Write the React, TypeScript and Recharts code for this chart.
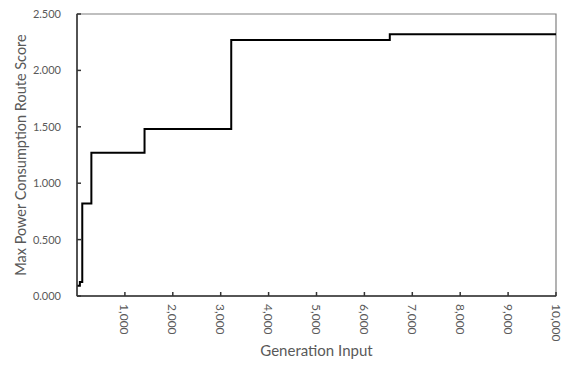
import { Label, Line, LineChart, ReferenceArea, XAxis, YAxis } from "recharts";

const generations = [0, 60, 110, 300, 1410, 3220, 6530, 10000];
const scores = [0.09, 0.125, 0.82, 1.27, 1.48, 2.27, 2.32, 2.32];
const xTicks = [1000, 2000, 3000, 4000, 5000, 6000, 7000, 8000, 9000, 10000];
const yTicks = [0, 0.5, 1, 1.5, 2, 2.5];

const data = generations.map((g, i) => ({ gen: g, score: scores[i] }));

const FONT = "Lato, 'Noto Sans', sans-serif";
const TEXT = "#595959";
const AXIS = "#333";

function XTick({ x, y, payload }: any) {
  return (
    <text
      x={0}
      y={0}
      transform={`translate(${x},${y}) rotate(90)`}
      textAnchor="start"
      dominantBaseline="central"
      fontSize={12}
      fontFamily={FONT}
      fill={TEXT}
    >
      {Number(payload.value).toLocaleString("en-US")}
    </text>
  );
}

export default function App() {
  return (
    <div style={{ width: 567, height: 365 }}>
      <style>{"html,body{margin:0;padding:0;overflow:hidden}"}</style>
      <LineChart
        width={567}
        height={365}
        data={data}
        margin={{ top: 14, right: 11, left: 0, bottom: 0 }}
      >
        <ReferenceArea
          x1={0}
          x2={10000}
          y1={0}
          y2={2.5}
          fill="none"
          stroke="#808080"
          strokeWidth={1.2}
          ifOverflow="visible"
        />
        <XAxis
          dataKey="gen"
          type="number"
          domain={[0, 10000]}
          ticks={xTicks}
          interval={0}
          height={69}
          stroke={AXIS}
          strokeWidth={1.5}
          tickSize={-4}
          tickMargin={12}
          tick={<XTick />}
        >
          <Label
            content={({ viewBox }: any) => (
              <text
                x={viewBox.x + viewBox.width / 2}
                y={viewBox.y + 60}
                textAnchor="middle"
                fontSize={15}
                fontFamily={FONT}
                fill={TEXT}
              >
                Generation Input
              </text>
            )}
          />
        </XAxis>
        <YAxis
          type="number"
          domain={[0, 2.5]}
          ticks={yTicks}
          interval={0}
          width={77}
          stroke={AXIS}
          strokeWidth={1.5}
          tickSize={-4}
          tickMargin={20}
          tickFormatter={(v: number) => v.toFixed(3)}
          tick={{ fontSize: 11, fontFamily: FONT, fill: TEXT }}
        >
          <Label
            content={({ viewBox }: any) => {
              const cx = 20;
              const cy = viewBox.y + viewBox.height / 2;
              return (
                <text
                  x={cx}
                  y={cy}
                  transform={`rotate(-90, ${cx}, ${cy})`}
                  textAnchor="middle"
                  dominantBaseline="central"
                  fontSize={14.5}
                  fontFamily={FONT}
                  fill={TEXT}
                >
                  Max Power Consumption Route Score
                </text>
              );
            }}
          />
        </YAxis>
        <Line
          type="stepAfter"
          dataKey="score"
          stroke="#000"
          strokeWidth={2}
          dot={false}
          isAnimationActive={false}
        />
      </LineChart>
    </div>
  );
}
